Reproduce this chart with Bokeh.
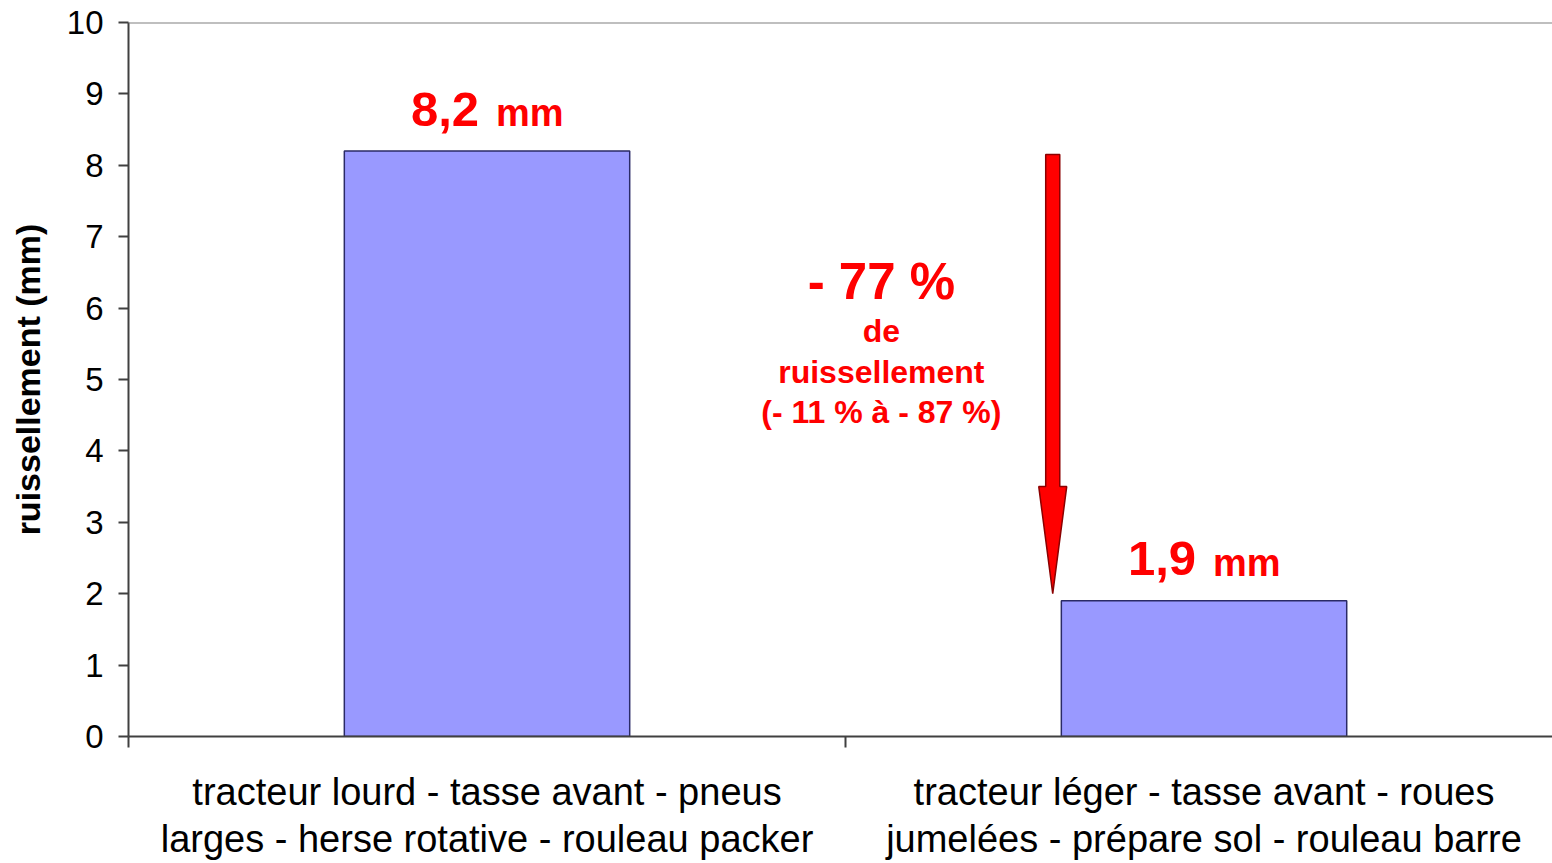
from bokeh.plotting import figure
from bokeh.models import Range1d, LinearAxis, FixedTicker, Span
from bokeh.core.properties import value
from bokeh.embed import file_html
from bokeh.resources import INLINE

# ---------------- data ----------------
categories = [
    "tracteur lourd - tasse avant - pneus\nlarges - herse rotative - rouleau packer",
    "tracteur léger - tasse avant - roues\njumelées - prépare sol - rouleau barre",
]
runoff_mm = [8.2, 1.9]
value_labels = [f"{v:.1f}".replace(".", ",") for v in runoff_mm]
unit_labels = ["mm", "mm"]
y_ticks = list(range(0, 11))
y_title = "ruissellement (mm)"
reduction_title = "- 77 %"
reduction_lines = ["de", "ruissellement", "(- 11 % à - 87 %)"]

# category slots: one unit per category, bars centred in their slot
cat_centers = [i + 0.5 for i in range(len(categories))]
boundary_ticks = list(range(len(categories) + 1))
X_VISIBLE_END = 1.986   # the chart's right edge is cut slightly before the last slot ends

# arrow (annotation) in the x scale (one unit per category)
ARROW_X = 1.289
ARROW_TOP = 8.15
ARROW_TIP = 2.0
HEAD_LEN = 1.5
SHAFT_HALF = 0.0098
HEAD_HALF = 0.0195
TEXT_X = 1.050
TEXT_Y = 6.37

FONT = "Liberation Sans"
RED = "#FF0000"

p = figure(width=1552, height=863,
           x_range=Range1d(0, X_VISIBLE_END), y_range=Range1d(0, 10),
           x_axis_location=None, output_backend="svg", toolbar_location=None,
           min_border_left=128, min_border_right=0, min_border_top=22,
           min_border_bottom=125)
p.outline_line_color = None
p.xgrid.visible = False
p.ygrid.visible = False
p.background_fill_color = "white"
p.border_fill_color = "white"

# y axis
ya = p.yaxis[0]
ya.ticker = FixedTicker(ticks=y_ticks)
ya.major_tick_out = 10
ya.major_tick_in = 0
ya.minor_tick_line_color = None
ya.axis_line_color = "#404040"
ya.axis_line_width = 2
ya.major_tick_line_color = "#404040"
ya.major_tick_line_width = 2
ya.major_label_text_font = FONT
ya.major_label_text_font_size = "33px"
ya.major_label_text_color = "black"
ya.major_label_standoff = 15
ya.axis_label = y_title
ya.axis_label_text_font = FONT
ya.axis_label_text_font_style = "bold"
ya.axis_label_text_font_size = "34px"
ya.axis_label_text_color = "black"
ya.axis_label_standoff = 17

# x axis with ticks at category boundaries
tick_axis = LinearAxis(ticker=FixedTicker(ticks=boundary_ticks),
                       major_label_overrides={t: "" for t in boundary_ticks},
                       major_label_text_font_size="0px", major_label_standoff=0,
                       major_tick_out=11, major_tick_in=0,
                       minor_tick_line_color=None,
                       axis_line_color="#404040", axis_line_width=2,
                       major_tick_line_color="#404040", major_tick_line_width=2)
p.add_layout(tick_axis, "below")
cat_axis = LinearAxis(ticker=FixedTicker(ticks=cat_centers),
                      major_label_overrides=dict(zip(cat_centers, categories)),
                      axis_line_color=None, major_tick_line_color=None,
                      minor_tick_line_color=None,
                      major_label_text_font=FONT,
                      major_label_text_font_size="38px",
                      major_label_text_color="black",
                      major_label_text_line_height=1.14,
                      major_label_standoff=17)
p.add_layout(cat_axis, "below")

# top border line
p.add_layout(Span(location=10, dimension="width", line_color="#808080", line_width=2))

# bars
p.vbar(x=cat_centers, top=runoff_mm, width=0.398, bottom=0,
       fill_color="#9999FF", line_color="#2A2A66", line_width=1.5)

# value labels
p.text(x=cat_centers, y=runoff_mm, text=value_labels, text_align="right",
       text_baseline="middle", x_offset=-8, y_offset=-42,
       text_font=value(FONT), text_font_style="bold", text_font_size="49px",
       text_color=RED)
p.text(x=cat_centers, y=runoff_mm, text=unit_labels, text_align="left",
       text_baseline="middle", x_offset=9, y_offset=-38,
       text_font=value(FONT), text_font_style="bold", text_font_size="38px",
       text_color=RED)

# arrow
base = ARROW_TIP + HEAD_LEN
arrow_x = [ARROW_X - SHAFT_HALF, ARROW_X + SHAFT_HALF, ARROW_X + SHAFT_HALF,
           ARROW_X + HEAD_HALF, ARROW_X, ARROW_X - HEAD_HALF, ARROW_X - SHAFT_HALF]
arrow_y = [ARROW_TOP, ARROW_TOP, base, base, ARROW_TIP, base, base]
p.patch(x=arrow_x, y=arrow_y, fill_color=RED, line_color="#8B0000", line_width=1.5)

# reduction text
p.text(x=[TEXT_X], y=[TEXT_Y], text=[reduction_title],
       text_align="center", text_baseline="middle",
       text_font=value(FONT), text_font_style="bold", text_font_size="51px",
       text_color=RED)
for line, off in zip(reduction_lines, [49, 90, 130]):
    p.text(x=[TEXT_X], y=[TEXT_Y], text=[line],
           y_offset=off, text_align="center", text_baseline="middle",
           text_font=value(FONT), text_font_style="bold", text_font_size="32px",
           text_color=RED)

open("out.html", "w").write(file_html(p, INLINE))
